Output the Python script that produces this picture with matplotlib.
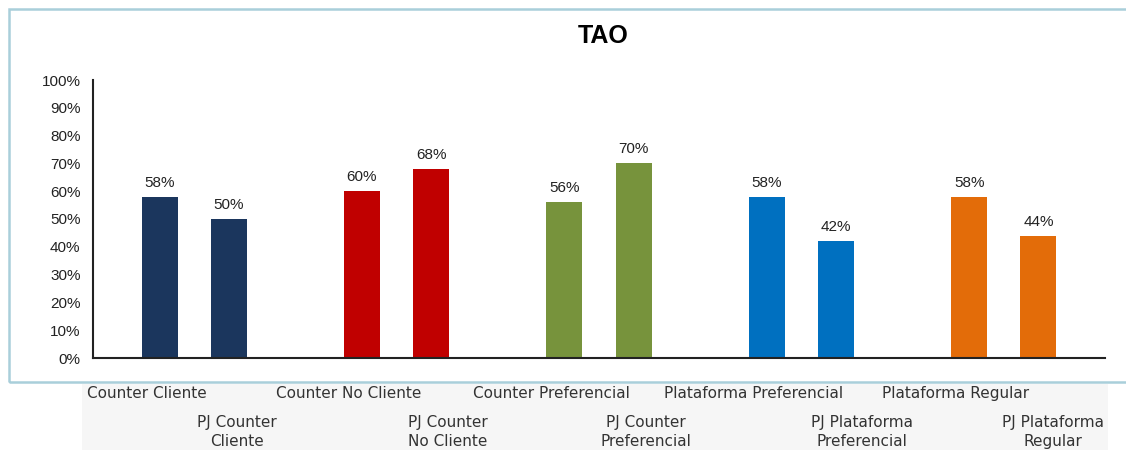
import matplotlib.pyplot as plt
import numpy as np
from matplotlib.patches import Rectangle
from matplotlib.ticker import PercentFormatter

# Data
groups = ["Counter Cliente", "Counter No Cliente", "Counter Preferencial",
          "Plataforma Preferencial", "Plataforma Regular"]
pj_labels = ["PJ Counter\nCliente", "PJ Counter\nNo Cliente", "PJ Counter\nPreferencial",
             "PJ Plataforma\nPreferencial", "PJ Plataforma\nRegular"]
base_vals = [0.58, 0.60, 0.56, 0.58, 0.58]
pj_vals = [0.50, 0.68, 0.70, 0.42, 0.44]
colors = ["#1B365D", "#C00000", "#77933C", "#0070C0", "#E36C09"]

plt.rcParams['font.family'] = ['Liberation Sans', 'DejaVu Sans']

fig = plt.figure(figsize=(11.26, 4.5), dpi=100)
ax = fig.add_axes([93/1126, 1 - 358/450, (1105 - 93)/1126, (358 - 80)/450])

x = np.arange(len(groups))
off = 0.171
w = 0.178
b1 = ax.bar(x - off, base_vals, w, color=colors)
b2 = ax.bar(x + off, pj_vals, w, color=colors)

for bars, vals in [(b1, base_vals), (b2, pj_vals)]:
    for r, v in zip(bars, vals):
        ax.annotate(f"{v:.0%}", (r.get_x() + r.get_width()/2, v), xytext=(0, 5),
                    textcoords="offset points", ha="center", va="bottom",
                    fontsize=11, color="#222222")

ax.set_xlim(-0.5, len(groups) - 0.5)
ax.set_ylim(0, 1)
ax.set_yticks(np.arange(0, 1.01, 0.1))
ax.yaxis.set_major_formatter(PercentFormatter(1.0, decimals=0))
ax.tick_params(axis='y', length=0, labelsize=11, labelcolor="#222222", pad=9)
ax.set_xticks([])
for s in ["top", "right"]:
    ax.spines[s].set_visible(False)
for s in ["left", "bottom"]:
    ax.spines[s].set_color("#222222")
    ax.spines[s].set_linewidth(1.5)

fig.text(603/1126, 1 - 36/450, "TAO", ha="center", va="center",
         fontsize=18, fontweight="bold")

# outer frame and label strip (behind the axes)
fig.patches.append(Rectangle((9/1126, 1 - 382/450), 1.2, (382 - 9)/450,
                             transform=fig.transFigure, fill=False,
                             edgecolor="#A9CFDA", linewidth=1.8, zorder=-2))
fig.patches.append(Rectangle((82/1126, 0), (1108 - 82)/1126, (450 - 384)/450,
                             transform=fig.transFigure, facecolor="#F6F6F6",
                             edgecolor="none", zorder=-1))

# category labels below the chart (two rows)
tr = ax.get_xaxis_transform()
row2_shift = [0.04, 0.08, 0.06, 0.13, 0.07]
for i in range(len(groups)):
    ax.text(x[i] - off - 0.065, -0.126, groups[i], transform=tr, ha="center",
            va="center", fontsize=11, color="#333333", family="DejaVu Sans",
            clip_on=False)
    ax.text(x[i] + off + row2_shift[i], -0.265, pj_labels[i], transform=tr,
            ha="center", va="center", fontsize=11, color="#333333",
            family="DejaVu Sans", linespacing=1.35, clip_on=False)

fig.savefig("out.png", dpi=100)
